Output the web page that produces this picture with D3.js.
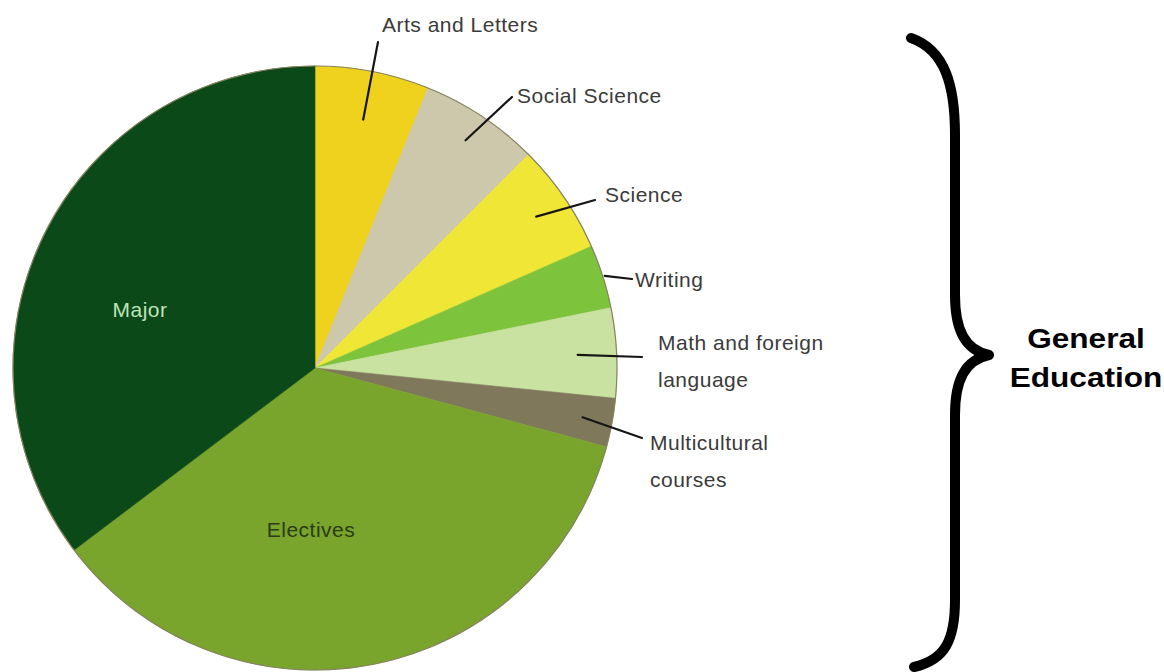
<!DOCTYPE html>
<html>
<head>
<meta charset="utf-8">
<script src="https://cdn.jsdelivr.net/npm/d3@7"></script>
<style>
  html, body { margin: 0; padding: 0; background: #fff; }
  svg { display: block; }
</style>
</head>
<body>
<div id="chart"></div>
<script>
// Share of a degree's credits, clockwise from 12 o'clock
const categories = [
  "Arts and Letters",
  "Social Science",
  "Science",
  "Writing",
  "Math and foreign language",
  "Multicultural courses",
  "Electives",
  "Major"
];
const shares = [6.1, 6.4, 5.9, 3.4, 4.8, 2.6, 35.5, 35.3];
const labelLines = [
  ["Arts and Letters"],
  ["Social Science"],
  ["Science"],
  ["Writing"],
  ["Math and foreign", "language"],
  ["Multicultural", "courses"],
  ["Electives"],
  ["Major"]
];
const groupTitle = ["General", "Education"];

const W = 1164, H = 672;
const cx = 315, cy = 368, R = 302;

const sliceColors = ["#efd21e", "#cdc8ac", "#f0e636", "#7ec33c", "#c9e1a1", "#7f785a", "#79a52d", "#0b4a18"];

// label placement: outside labels get a leader line from inside the slice
// pos: text anchor relative to pie centre; lead: outer end of leader relative to text anchor;
// inR: radius of the inner end of the leader
const labelLayout = [
  { pos: [67, -336], lead: [-4, 10], inR: 253 },
  { pos: [202, -265], lead: [-5, -6], inR: 273 },
  { pos: [290, -166], lead: [-10, -2], inR: 268 },
  { pos: [320, -81], lead: [-3, -8], inR: 304 },
  { pos: [343, -18], lead: [-16, 7], inR: 263 },
  { pos: [335, 82], lead: [-8, -12], inR: 272 },
  { pos: [-4, 169], inside: true, fill: "#2c3b14" },
  { pos: [-175, -51], inside: true, fill: "#bfe3b9" }
];

const svg = d3.select("#chart").append("svg")
  .attr("width", W).attr("height", H)
  .attr("viewBox", `0 0 ${W} ${H}`);

const data = categories.map((c, i) => ({ name: c, value: shares[i], i }));

const pie = d3.pie().sort(null).value(d => d.value).startAngle(0).endAngle(2 * Math.PI);
const arcs = pie(data);
const arc = d3.arc().innerRadius(0).outerRadius(R);

const g = svg.append("g").attr("transform", `translate(${cx},${cy})`);

g.selectAll("path.slice")
  .data(arcs)
  .join("path")
  .attr("class", "slice")
  .attr("d", arc)
  .attr("fill", d => sliceColors[d.data.i])
  .attr("stroke", d => sliceColors[d.data.i])
  .attr("stroke-width", 0.6);

// thin rim around the pie
g.append("circle")
  .attr("r", R)
  .attr("fill", "none")
  .attr("stroke", "#86835f")
  .attr("stroke-width", 1.2);

const polar = (a, r) => [r * Math.sin(a), -r * Math.cos(a)];

// leader lines
g.selectAll("line.leader")
  .data(arcs.filter(d => !labelLayout[d.data.i].inside))
  .join("line")
  .attr("class", "leader")
  .each(function (d) {
    const L = labelLayout[d.data.i];
    const mid = (d.startAngle + d.endAngle) / 2;
    const p = polar(mid, L.inR);
    d3.select(this)
      .attr("x1", p[0]).attr("y1", p[1])
      .attr("x2", L.pos[0] + L.lead[0]).attr("y2", L.pos[1] + L.lead[1]);
  })
  .attr("stroke", "#151515")
  .attr("stroke-width", 2.2)
  .attr("stroke-linecap", "round");

// slice labels
const labels = g.selectAll("text.lbl")
  .data(arcs)
  .join("text")
  .attr("class", "lbl")
  .attr("x", d => labelLayout[d.data.i].pos[0])
  .attr("y", d => labelLayout[d.data.i].pos[1])
  .attr("text-anchor", d => labelLayout[d.data.i].inside ? "middle" : "start")
  .attr("fill", d => labelLayout[d.data.i].fill || "#3b3b3b")
  .style("font-family", "'Liberation Sans', Arial, Helvetica, sans-serif")
  .style("font-size", "21px")
  .style("letter-spacing", "0.5px");

labels.each(function (d) {
  const lines = labelLines[d.data.i];
  const t = d3.select(this);
  const x = labelLayout[d.data.i].pos[0];
  lines.forEach((ln, k) => {
    t.append("tspan").attr("x", x).attr("dy", k === 0 ? 0 : 37).text(ln);
  });
});

// curly brace grouping the general-education slices
const brace = d3.path();
brace.moveTo(911, 38);
brace.bezierCurveTo(945, 50, 955, 85, 955, 135);
brace.lineTo(955, 295);
brace.bezierCurveTo(955, 330, 965, 350, 989, 355);
brace.bezierCurveTo(965, 360, 955, 380, 955, 415);
brace.lineTo(955, 600);
brace.bezierCurveTo(955, 640, 945, 660, 914, 667);

svg.append("path")
  .attr("d", brace.toString())
  .attr("fill", "none")
  .attr("stroke", "#000")
  .attr("stroke-width", 10)
  .attr("stroke-linecap", "round")
  .attr("stroke-linejoin", "round");

const title = svg.append("text")
  .attr("transform", "translate(1086,348) scale(1.17,1)")
  .attr("text-anchor", "middle")
  .attr("fill", "#000")
  .style("font-family", "'Liberation Sans', Arial, Helvetica, sans-serif")
  .style("font-weight", "bold")
  .style("font-size", "27px");
title.selectAll("tspan")
  .data(groupTitle)
  .join("tspan")
  .attr("x", 0)
  .attr("dy", (d, k) => k === 0 ? 0 : 39)
  .text(d => d);
</script>
</body>
</html>
